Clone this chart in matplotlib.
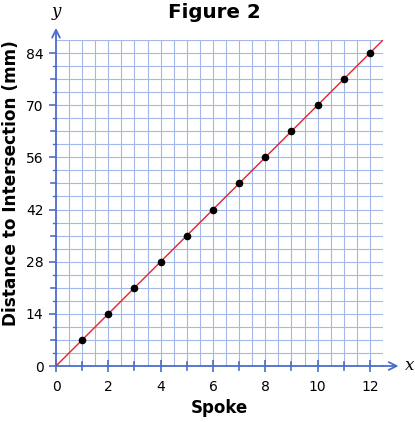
import matplotlib
matplotlib.use("Agg")
import matplotlib.pyplot as plt
import numpy as np

spokes = [1, 2, 3, 4, 5, 6, 7, 8, 9, 10, 11, 12]
distances = [7, 14, 21, 28, 35, 42, 49, 56, 63, 70, 77, 84]
x_ticks = [0, 2, 4, 6, 8, 10, 12]
y_ticks = [0, 14, 28, 42, 56, 70, 84]

GRID = "#a3b8e8"
AXIS = "#4a6ccc"

fig = plt.figure(figsize=(4.15, 4.22), dpi=100)
ax = fig.add_axes([56 / 415, 56 / 422, 327 / 415, 326 / 422])

ax.set_xlim(0, 12.5)
ax.set_ylim(0, 87.5)

# light grid every half spoke and every 3.5 mm
for gx in np.arange(0.5, 12.51, 0.5):
    ax.axvline(gx, color=GRID, lw=0.8, zorder=0)
for gy in np.arange(3.5, 87.51, 3.5):
    ax.axhline(gy, color=GRID, lw=0.8, zorder=0)

for s in ["top", "right"]:
    ax.spines[s].set_visible(False)
for s in ["left", "bottom"]:
    ax.spines[s].set_color(AXIS)
    ax.spines[s].set_linewidth(1.3)

ax.set_xticks(x_ticks)
ax.set_yticks(y_ticks)
ax.set_xticklabels([str(v) for v in x_ticks], fontsize=10)
ax.set_yticklabels([str(v) for v in y_ticks], fontsize=10)
ax.tick_params(axis="x", color=AXIS, length=8, width=1.2, direction="inout", pad=6)
ax.tick_params(axis="y", color=AXIS, length=5, width=1.2, direction="out", pad=4)

# extra axis ticks (odd x values, multiples of 7 on y, half steps on y)
for xv in range(1, 13, 2):
    ax.plot([xv, xv], [-1.1, 1.1], color=AXIS, lw=1.2, clip_on=False)
for yv in np.arange(7, 87.5, 14):
    ax.plot([-0.2, 0.0], [yv, yv], color=AXIS, lw=1.2, clip_on=False)
for yv in np.arange(3.5, 87.5, 7):
    ax.plot([-0.12, 0.0], [yv, yv], color=AXIS, lw=1.0, clip_on=False)

# axis arrows
ax.annotate("", xy=(13.2, 0), xytext=(12.4, 0),
            arrowprops=dict(arrowstyle="->", color=AXIS, lw=1.3, mutation_scale=14),
            annotation_clip=False)
ax.annotate("", xy=(0, 91.5), xytext=(0, 87.0),
            arrowprops=dict(arrowstyle="->", color=AXIS, lw=1.3, mutation_scale=14),
            annotation_clip=False)
ax.text(13.35, 0, "x", fontsize=12, style="italic", family="DejaVu Serif",
        va="center", ha="left", clip_on=False)
ax.text(0, 93, "y", fontsize=12, style="italic", family="DejaVu Serif",
        va="bottom", ha="center", clip_on=False)

# line of best fit
xl = np.array([0, 12.5])
ax.plot(xl, 7 * xl, color="#e8202a", lw=1.0, zorder=3)
ax.scatter(spokes, distances, s=20, color="black", zorder=4)

ax.set_xlabel("Spoke", fontsize=12, fontweight="bold", labelpad=4)
ax.set_ylabel("Distance to Intersection (mm)", fontsize=12.2, fontweight="bold")
ax.yaxis.set_label_coords(-0.11, 0.56)
fig.text(214 / 415, 1 - 12 / 422, "Figure 2", fontsize=14.3, fontweight="bold",
         ha="center", va="center")

fig.savefig("out.png", dpi=100)
